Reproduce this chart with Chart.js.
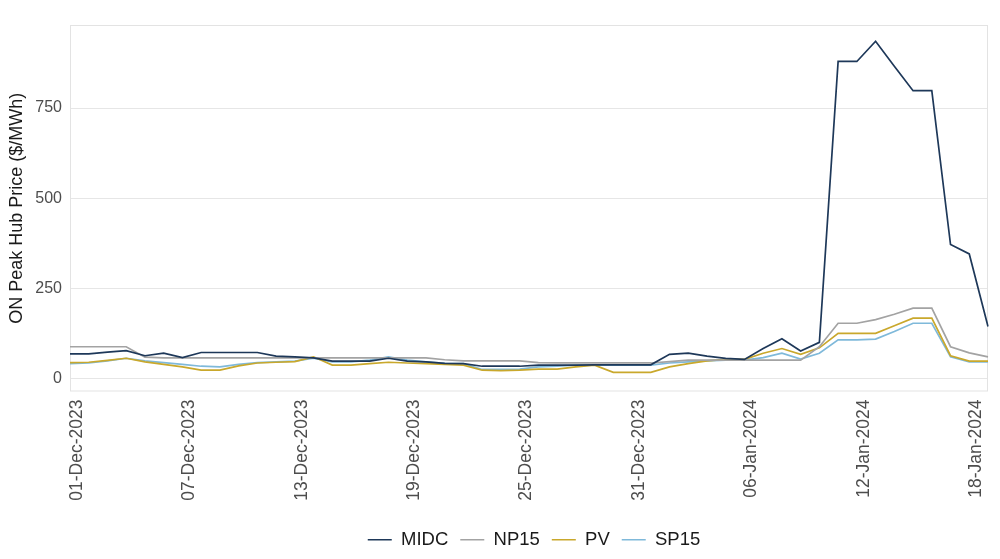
<!DOCTYPE html>
<html>
<head>
    <title>ON Peak Hub Price</title>
    <script src="https://cdn.jsdelivr.net/npm/chart.js"></script>
    <style>
        body { margin: 0; background: #fff; }
        #wrap { width: 1000px; height: 559px; }
    </style>
</head>
<body>
    <div id="wrap"><canvas id="price-chart" width="1000" height="559"></canvas></div>

    <script>
        // daily dates 01-Dec-2023 .. 19-Jan-2024
        const months = ['Jan', 'Feb', 'Mar', 'Apr', 'May', 'Jun', 'Jul', 'Aug', 'Sep', 'Oct', 'Nov', 'Dec'];
        const dates = [];
        for (let d = new Date(Date.UTC(2023, 11, 1)); d <= new Date(Date.UTC(2024, 0, 19)); d.setUTCDate(d.getUTCDate() + 1)) {
            dates.push(String(d.getUTCDate()).padStart(2, '0') + '-' + months[d.getUTCMonth()] + '-' + d.getUTCFullYear());
        }

        const yTicks = [0, 250, 500, 750];

        const midc = [69, 69, 74, 78, 64, 71, 59, 73, 73, 73,
                      73, 63, 61, 58, 49, 49, 49, 57, 49, 47,
                      43, 42, 35, 35, 35, 38, 38, 38, 39, 39,
                      39, 39, 68, 71, 63, 57, 54, 84, 111, 77,
                      101, 879, 879, 935, 866, 798, 798, 372, 346, 145];
        const np15 = [89, 89, 89, 89, 60, 58, 58, 58, 58, 58,
                      58, 58, 58, 58, 58, 58, 58, 58, 58, 58,
                      53, 50, 50, 50, 50, 45, 44, 44, 44, 44,
                      44, 44, 48, 52, 52, 52, 52, 52, 52, 52,
                      89, 154, 154, 164, 179, 196, 196, 89, 72, 61];
        const pv   = [45, 46, 51, 57, 47, 40, 33, 24, 24, 36,
                      44, 46, 48, 61, 38, 38, 42, 46, 44, 42,
                      40, 38, 24, 23, 24, 27, 27, 33, 38, 18,
                      18, 18, 33, 42, 50, 54, 54, 71, 84, 68,
                      86, 126, 126, 126, 147, 168, 168, 64, 49, 49];
        const sp15 = [42, 44, 50, 57, 50, 45, 40, 35, 33, 40,
                      45, 47, 49, 57, 47, 47, 52, 61, 52, 47,
                      43, 42, 26, 26, 27, 33, 35, 38, 38, 38,
                      38, 38, 44, 47, 50, 52, 52, 59, 71, 55,
                      71, 108, 108, 110, 131, 154, 154, 61, 47, 47];

        const panelBorder = {
            id: 'panelBorder',
            beforeDatasetsDraw(chart) {
                const a = chart.chartArea;
                const ctx = chart.ctx;
                ctx.save();
                ctx.strokeStyle = '#e3e3e3';
                ctx.lineWidth = 1;
                ctx.strokeRect(a.left + 0.5, a.top + 0.5, a.right - a.left - 1, a.bottom - a.top - 1);
                ctx.restore();
            }
        };

        function series(label, data, color) {
            return {
                label: label,
                data: data,
                borderColor: color,
                backgroundColor: color,
                borderWidth: 1.7,
                pointRadius: 0,
                tension: 0,
                fill: false
            };
        }

        const ctx = document.getElementById('price-chart').getContext('2d');
        const chart = new Chart(ctx, {
            type: 'line',
            data: {
                labels: dates,
                datasets: [
                    series('MIDC', midc, '#1e3859'),
                    series('NP15', np15, '#a3a3a3'),
                    series('PV', pv, '#c9a82c'),
                    series('SP15', sp15, '#7fb9da')
                ]
            },
            plugins: [panelBorder],
            options: {
                responsive: false,
                animation: false,
                layout: { padding: { top: 25, right: 12, bottom: 0, left: 0 } },
                plugins: {
                    legend: {
                        position: 'bottom',
                        labels: {
                            usePointStyle: true,
                            pointStyle: 'line',
                            pointStyleWidth: 24,
                            padding: 12,
                            color: '#1a1a1a',
                            font: { family: 'Liberation Sans', size: 18.5 }
                        }
                    },
                    tooltip: { enabled: false }
                },
                scales: {
                    x: {
                        grid: { display: false },
                        border: { display: false },
                        ticks: {
                            autoSkip: false,
                            minRotation: 90,
                            maxRotation: 90,
                            labelOffset: 7,
                            padding: 0,
                            color: '#4d4d4d',
                            font: { family: 'Liberation Sans', size: 17.5 },
                            callback: function (v, i) { return i % 6 === 0 ? dates[i] : null; }
                        },
                        afterFit: function (s) { s.height = 127; }
                    },
                    y: {
                        min: -35,
                        max: 980,
                        grid: { color: '#e6e6e6', lineWidth: 1, drawTicks: false },
                        border: { display: false },
                        ticks: {
                            padding: 8,
                            color: '#4d4d4d',
                            font: { family: 'Liberation Sans', size: 16 }
                        },
                        afterBuildTicks: function (s) { s.ticks = yTicks.map(v => ({ value: v })); },
                        afterFit: function (s) { s.width = 70; },
                        title: {
                            display: true,
                            text: 'ON Peak Hub Price ($/MWh)',
                            color: '#1a1a1a',
                            padding: { top: 6, bottom: 0 },
                            font: { family: 'Liberation Sans', size: 18 }
                        }
                    }
                }
            }
        });

        // centre the legend under the plot panel rather than the whole canvas
        const legendDraw = chart.legend.draw.bind(chart.legend);
        chart.legend.draw = function (area) {
            const shift = (chart.chartArea.left + chart.chartArea.right) / 2 - (chart.legend.left + chart.legend.right) / 2 + 5;
            chart.ctx.save();
            chart.ctx.translate(shift, 0);
            legendDraw(area);
            chart.ctx.restore();
        };
        chart.draw();
    </script>
</body>
</html>
